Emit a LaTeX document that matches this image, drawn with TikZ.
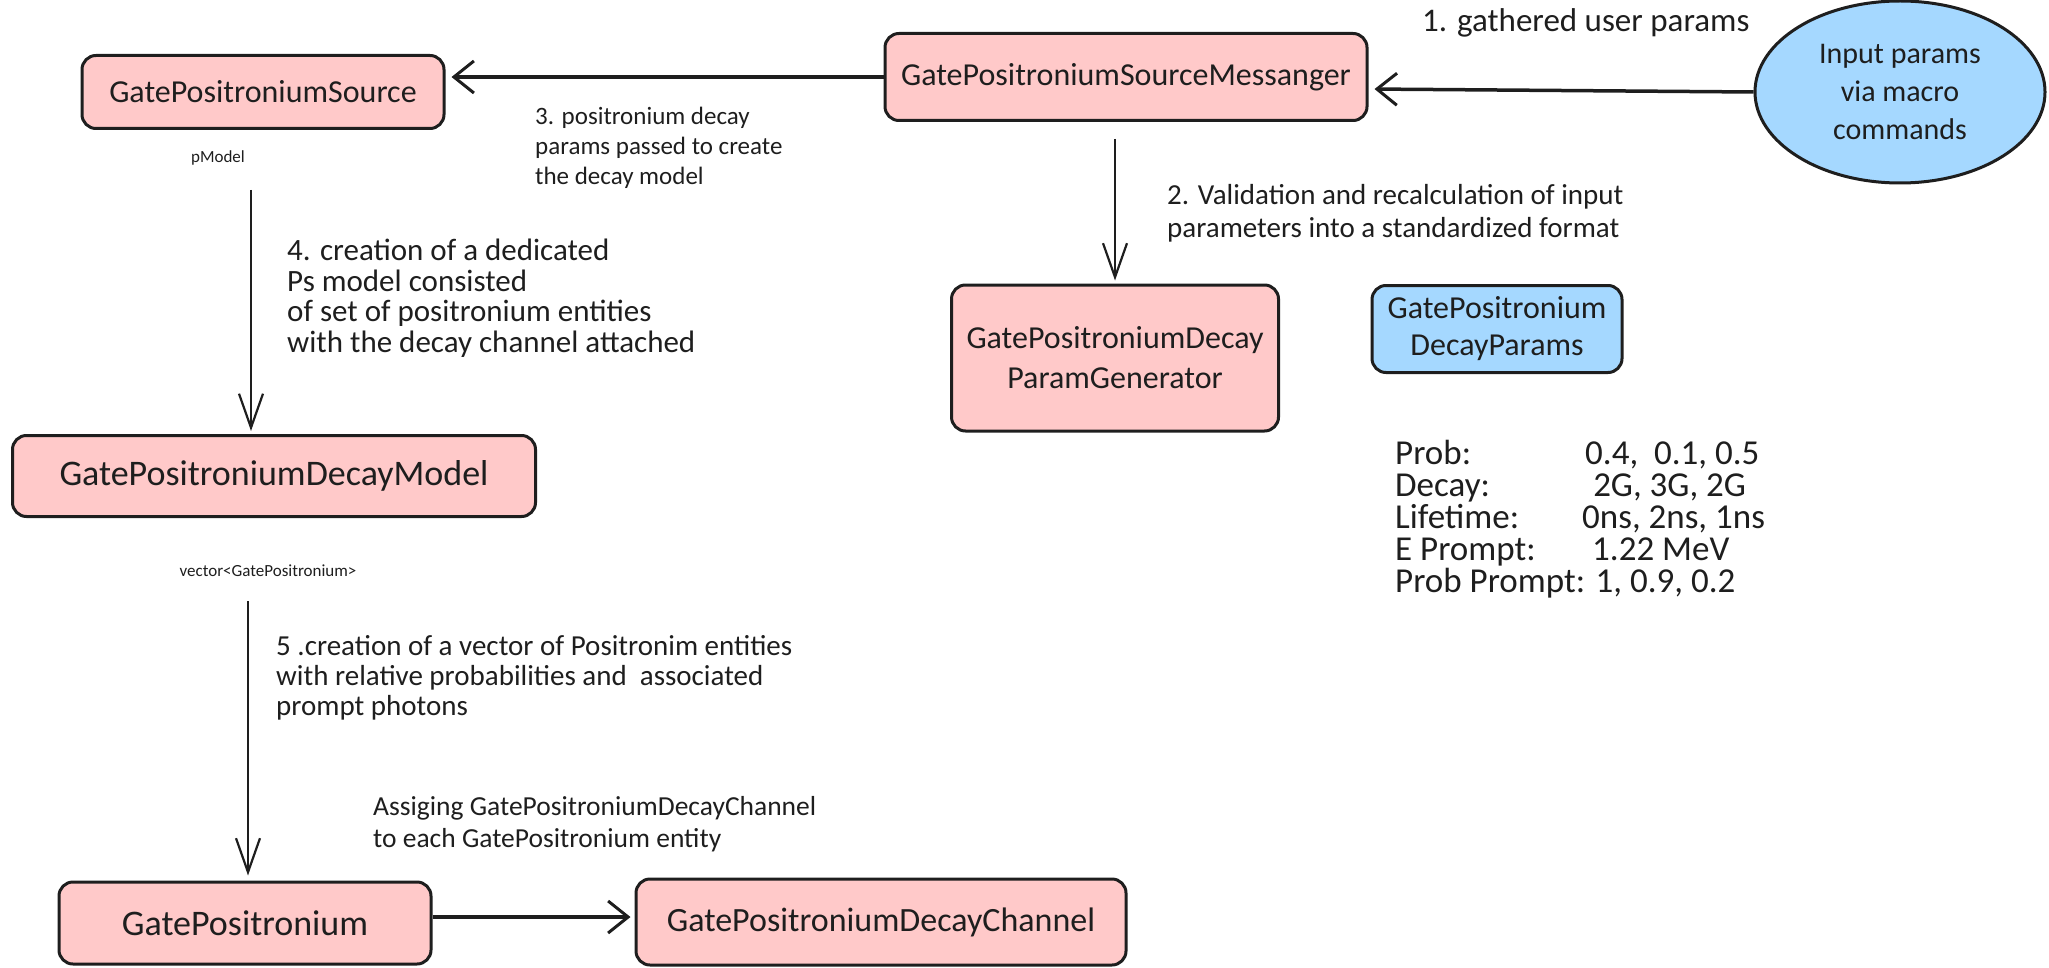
\documentclass[tikz,border=0pt]{standalone}
\usepackage{fontspec}
\setmainfont{Carlito}
\usetikzlibrary{arrows.meta,shapes.geometric}
\definecolor{pinkfill}{HTML}{FFC9C9}
\definecolor{bluefill}{HTML}{A5D8FF}
\definecolor{ink}{HTML}{1E1E1E}
\newcommand{\fsz}[2]{\fontsize{#1}{#2}\selectfont}
\newcommand{\smallfont}{\fontsize{17}{20}\selectfont}
\begin{document}
\begin{tikzpicture}[x=1pt,y=-1pt,
  box/.style={draw=ink, line width=3pt, rounded corners=14pt, fill=pinkfill, inner sep=0pt, font=\fsz{32}{38}, align=center, text=ink},
  bluebox/.style={box, fill=bluefill},
  lab/.style={align=left, anchor=north west, inner sep=0pt, text=ink},
  harr/.style={draw=ink, line width=3.5pt, -{Straight Barb[length=20pt,width=32pt,line width=3pt]}},
  varr/.style={draw=ink, line width=2.2pt, -{Straight Barb[length=34pt,width=24pt,line width=2.2pt]}}
]
\useasboundingbox (0,0) rectangle (2049,968);

% boxes
\node[box, minimum width=362pt, minimum height=73pt] (src) at (263,92) {GatePositroniumSource};
\node[box, font=\fsz{32}{38}, minimum width=482pt, minimum height=87pt] (msg) at (1126,77) {GatePositroniumSourceMessanger};
\node[ellipse, draw=ink, line width=3pt, fill=bluefill, minimum width=290pt, minimum height=182pt, inner sep=0pt, font=\fsz{30}{38}, align=center, text=ink] (inp) at (1900,92) {Input params\\via macro\\commands};
\node[box, font=\fsz{32}{40}, minimum width=327pt, minimum height=146pt] (pg) at (1115,358) {GatePositroniumDecay\\ParamGenerator};
\node[bluebox, font=\fsz{32}{37}, minimum width=250pt, minimum height=87pt] (dp) at (1497,329) {GatePositronium\\DecayParams};
\node[box, font=\fsz{36}{40}, minimum width=523pt, minimum height=81pt] (model) at (274,476) {GatePositroniumDecayModel};
\node[box, font=\fsz{36}{40}, minimum width=372pt, minimum height=82pt] (gp) at (245,923) {GatePositronium};
\node[box, font=\fsz{34}{40}, minimum width=490pt, minimum height=86pt] (dc) at (881,922) {GatePositroniumDecayChannel};

% small labels
\node[font=\smallfont, text=ink] (pm) at (218,158) {pModel};
\node[font=\smallfont, text=ink] (vec) at (268,571) {vector<GatePositronium>};

% text labels
\node[lab, font=\fsz{33}{36}] (l1) at (1422,8) {1. gathered user params};
\node[lab, font=\fsz{29}{33}] (l2) at (1167,184) {2. Validation and recalculation of input\\parameters into a standardized format};
\node[lab, font=\fsz{25}{30}] (l3) at (535,107) {3. positronium decay\\params passed to create\\the decay model};
\node[lab, font=\fsz{31}{30.5}] (l4) at (287,239) {4. creation of a dedicated\\Ps model consisted\\of set of positronium entities\\with the decay channel attached};
\node[lab, font=\fsz{29}{30}] (l5) at (276,635) {5 .creation of a vector of Positronim entities\\with relative probabilities and\ \ associated\\prompt photons};
\node[lab, font=\fsz{27.5}{32}] (l6) at (373,796) {Assiging GatePositroniumDecayChannel\\to each GatePositronium entity};

% parameter table
\node[font=\fsz{35}{32}, align=left, anchor=north west, inner sep=0pt, text=ink] (tab) at (1395,440) {%
\makebox[190pt][l]{Prob:}0.4,\ \ 0.1, 0.5\\
\makebox[198pt][l]{Decay:}2G, 3G, 2G\\
\makebox[187pt][l]{Lifetime:}0ns, 2ns, 1ns\\
\makebox[197pt][l]{E Prompt:}1.22 MeV\\
Prob Prompt: 1, 0.9, 0.2};

% connectors
\coordinate (a4s) at (251,190);
\coordinate (a5s) at (248,601);
\draw[harr, shorten >=6pt] (msg.west) -- (msg.west -| src.east);
\draw[harr, shorten >=6pt] (inp.west) -- ([yshift=-12pt]msg.east);
\draw[varr, shorten <=17pt, shorten >=3pt] (msg.south -| pg.north) -- (pg.north);
\draw[varr, shorten >=3pt] (a4s) -- (a4s |- model.north);
\draw[varr, shorten >=5pt] (a5s) -- (a5s |- gp.north);
\draw[harr, shorten >=4pt] ([yshift=6pt]gp.east) -- ([yshift=6pt]gp.east -| dc.west);
\end{tikzpicture}
\end{document}
